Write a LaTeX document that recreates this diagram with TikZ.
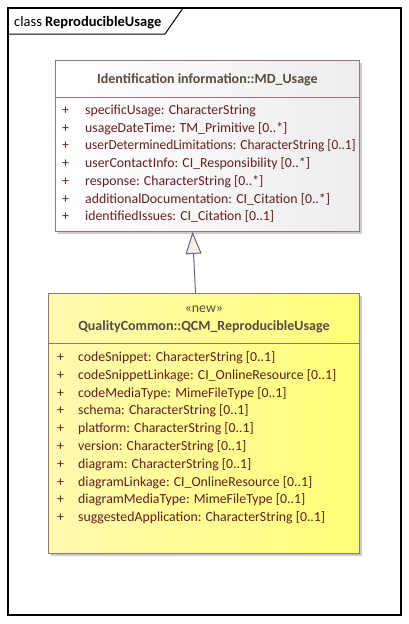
\documentclass[tikz,border=0pt]{standalone}
\usepackage{fontspec}
\setmainfont{Carlito}
\usetikzlibrary{arrows.meta,calc}
\definecolor{umlline}{RGB}{140,120,120}
\definecolor{umltext}{RGB}{100,30,30}
\definecolor{umlhead}{RGB}{85,75,65}
\definecolor{genline}{RGB}{95,105,135}
\definecolor{genfill}{RGB}{248,238,232}
\definecolor{qcmleft}{RGB}{255,250,175}
\definecolor{qcmright}{RGB}{255,255,120}
\tikzset{
  umlbox/.style={draw=umlline, line width=0.9pt, anchor=north west, inner sep=0pt},
  umlshadow/.style={fill=black!20},
  attrtext/.style={text=umltext, anchor=base west, inner sep=0pt},
  headtext/.style={text=umlhead, font=\fontsize{14}{16}\selectfont\bfseries},
  genarrow/.style={draw=genline, line width=1pt, -{Triangle[length=22pt,width=16pt,fill=genfill]}}
}
\begin{document}
\begin{tikzpicture}[x=1pt,y=-1pt,font=\fontsize{13.8}{16}\selectfont]
  \useasboundingbox (0,0) rectangle (409,624);
  \draw[line width=1.2pt] (8,8) rectangle (401,615);
  \draw[line width=1pt] (8,34) -- (165,34) -- (183,8);
  \node[anchor=base west, inner sep=0pt, font=\fontsize{14.5}{16}\selectfont] (title) at (14,26) {class \textbf{ReproducibleUsage}};

  \fill[umlshadow] (58,63) rectangle (362,234);
  \node[umlbox, minimum width=304pt, minimum height=171pt, left color=white, right color=black!7] (md) at (55,60) {};
  \draw[umlline, line width=0.9pt] (md.west |- 0,97) -- (md.east |- 0,97);
  \node[headtext] (mdname) at (md.north |- 0,79.5) {Identification information::MD\_Usage};
  \foreach \attr [count=\i from 0] in {{specificUsage: CharacterString},
      {usageDateTime: TM\_Primitive [0..*]},
      {\scalebox{0.965}[1]{userDeterminedLimitations: CharacterString [0..1]}},
      {userContactInfo: CI\_Responsibility [0..*]},
      {response: CharacterString [0..*]},
      {additionalDocumentation: CI\_Citation [0..*]},
      {identifiedIssues: CI\_Citation [0..1]}} {
    \node[attrtext] (mdp\i) at (62,114.5+17.7*\i) {+};
    \node[attrtext] (mda\i) at (85,114.5+17.7*\i) {\attr};
  }

  \fill[umlshadow] (51,296) rectangle (362,556);
  \node[umlbox, minimum width=311pt, minimum height=260pt, left color=qcmleft, right color=qcmright] (qcm) at (48,293) {};
  \draw[umlline, line width=0.9pt] (qcm.west |- 0,343) -- (qcm.east |- 0,343);
  \node[text=umlhead] (qcmst) at (qcm.north |- 0,309) {«new»};
  \node[headtext] (qcmname) at (qcm.north |- 0,327) {QualityCommon::QCM\_ReproducibleUsage};
  \foreach \attr [count=\i from 0] in {{codeSnippet: CharacterString [0..1]},
      {codeSnippetLinkage: CI\_OnlineResource [0..1]},
      {codeMediaType: MimeFileType [0..1]},
      {schema: CharacterString [0..1]},
      {platform: CharacterString [0..1]},
      {version: CharacterString [0..1]},
      {diagram: CharacterString [0..1]},
      {diagramLinkage: CI\_OnlineResource [0..1]},
      {diagramMediaType: MimeFileType [0..1]},
      {suggestedApplication: CharacterString [0..1]}} {
    \node[attrtext] (qcmp\i) at (57,361.5+17.8*\i) {+};
    \node[attrtext] (qcma\i) at (78,361.5+17.8*\i) {\attr};
  }

  \draw[genarrow] ($(qcm.north west)!0.473!(qcm.north east)$) -- ($(md.south west)!0.451!(md.south east)$);
\end{tikzpicture}
\end{document}
